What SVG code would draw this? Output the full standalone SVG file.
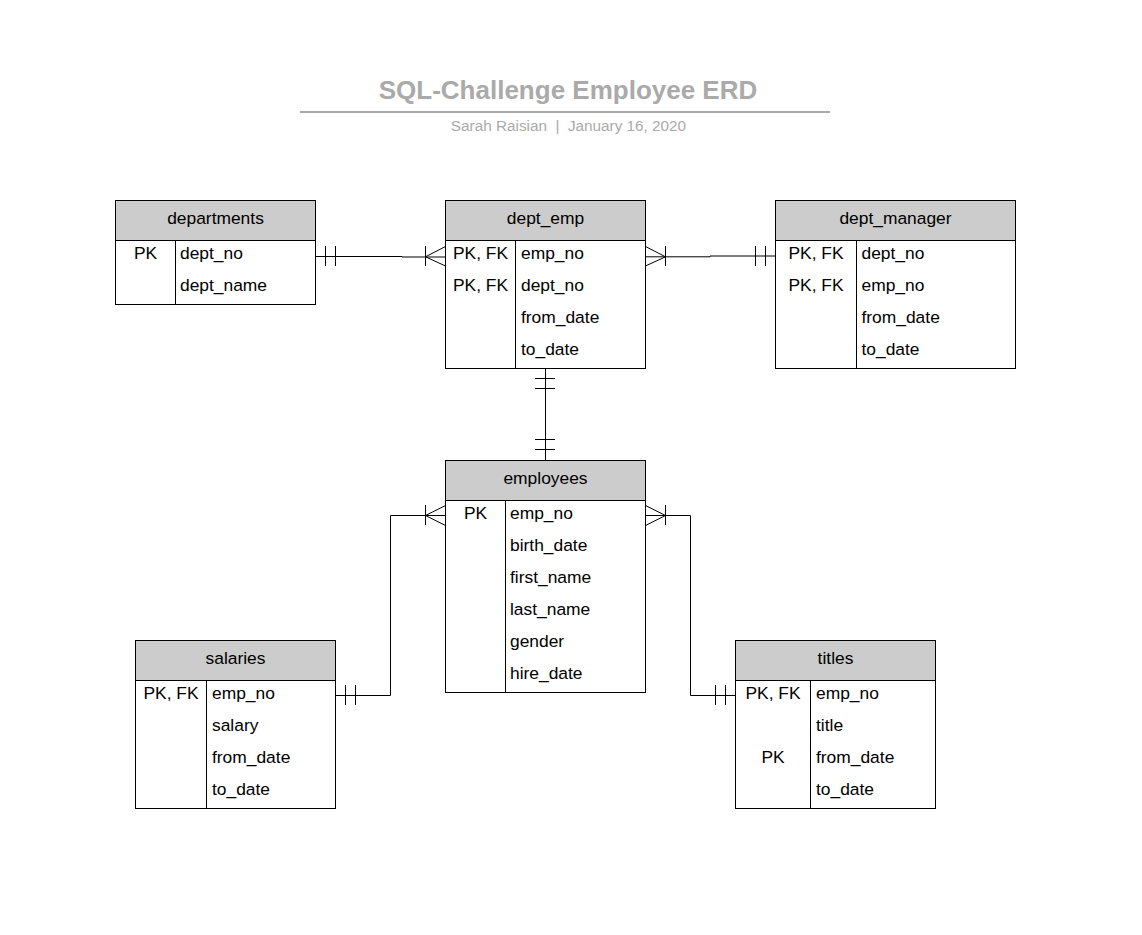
<svg xmlns="http://www.w3.org/2000/svg" width="1142" height="935" viewBox="0 0 1142 935">
<style>
.box{fill:#ffffff;stroke:#000000;stroke-width:1}
.hdr{fill:#cccccc;stroke:#000000;stroke-width:1}
.ln{fill:none;stroke:#000000;stroke-width:1}
.t{font-family:"Liberation Sans",Arial,sans-serif;font-size:17.4px;fill:#000000}
.c{text-anchor:middle}
.title{font-family:"Liberation Sans",Arial,sans-serif;font-size:26px;font-weight:bold;fill:#aaaaaa;text-anchor:middle}
.sub{font-family:"Liberation Sans",Arial,sans-serif;font-size:15.3px;fill:#aaaaaa;text-anchor:middle}
</style>
<rect x="0" y="0" width="1142" height="935" fill="#ffffff"/>
<g id="title">
<text class="title" x="568" y="99">SQL-Challenge Employee ERD</text>
<line x1="300" y1="112" x2="830" y2="112" stroke="#aaaaaa" stroke-width="2"/>
<text class="sub" x="568.5" y="131" xml:space="preserve">Sarah Raisian  |  January 16, 2020</text>
</g>
<g id="connectors">
<polyline class="ln" points="315.5,256.5 402,256.5 402,257 445.5,257"/>
<line class="ln" x1="325.5" y1="246" x2="325.5" y2="266"/>
<line class="ln" x1="335.5" y1="246" x2="335.5" y2="266"/>
<line class="ln" x1="425.5" y1="246" x2="425.5" y2="266"/>
<polyline class="ln" points="445.5,246.5 425.5,256.8 445.5,266"/>
<polyline class="ln" points="645.5,256.8 710,256.8 710,256 775.5,256"/>
<polyline class="ln" points="645.5,246.5 665.5,256.8 645.5,266"/>
<line class="ln" x1="665.5" y1="246" x2="665.5" y2="266"/>
<line class="ln" x1="755.5" y1="246" x2="755.5" y2="266"/>
<line class="ln" x1="765.5" y1="246" x2="765.5" y2="266"/>
<line class="ln" x1="545.5" y1="368.5" x2="545.5" y2="460.5"/>
<line class="ln" x1="535" y1="378.5" x2="555" y2="378.5"/>
<line class="ln" x1="535" y1="388.5" x2="555" y2="388.5"/>
<line class="ln" x1="535" y1="439.5" x2="555" y2="439.5"/>
<line class="ln" x1="535" y1="449.5" x2="555" y2="449.5"/>
<polyline class="ln" points="335.5,695.5 390.5,695.5 390.5,515.5 445.5,515.5"/>
<line class="ln" x1="345.5" y1="685" x2="345.5" y2="705"/>
<line class="ln" x1="355.5" y1="685" x2="355.5" y2="705"/>
<line class="ln" x1="425.5" y1="505" x2="425.5" y2="525"/>
<polyline class="ln" points="445.5,505.5 425.5,515.5 445.5,525.5"/>
<polyline class="ln" points="645.5,515.5 690.5,515.5 690.5,695.5 735.5,695.5"/>
<polyline class="ln" points="645.5,505.5 665.5,515.5 645.5,525.5"/>
<line class="ln" x1="665.5" y1="505" x2="665.5" y2="525"/>
<line class="ln" x1="715.5" y1="685" x2="715.5" y2="705"/>
<line class="ln" x1="725.5" y1="685" x2="725.5" y2="705"/>
</g>
<g id="departments">
<rect class="hdr" x="115.5" y="200.5" width="200" height="40"/>
<rect class="box" x="115.5" y="240.5" width="200" height="64"/>
<line class="ln" x1="175.5" y1="240.5" x2="175.5" y2="304.5"/>
<text class="t c" x="215.5" y="224">departments</text>
<text class="t c" x="145.5" y="259">PK</text>
<text class="t" x="180" y="259">dept_no</text>
<text class="t" x="180" y="291">dept_name</text>
</g>
<g id="dept_emp">
<rect class="hdr" x="445.5" y="200.5" width="200" height="40"/>
<rect class="box" x="445.5" y="240.5" width="200" height="128"/>
<line class="ln" x1="515.5" y1="240.5" x2="515.5" y2="368.5"/>
<text class="t c" x="545.5" y="224">dept_emp</text>
<text class="t c" x="480.5" y="259">PK, FK</text>
<text class="t c" x="480.5" y="291">PK, FK</text>
<text class="t" x="521" y="259">emp_no</text>
<text class="t" x="521" y="291">dept_no</text>
<text class="t" x="521" y="323">from_date</text>
<text class="t" x="521" y="355">to_date</text>
</g>
<g id="dept_manager">
<rect class="hdr" x="775.5" y="200.5" width="240" height="40"/>
<rect class="box" x="775.5" y="240.5" width="240" height="128"/>
<line class="ln" x1="856.5" y1="240.5" x2="856.5" y2="368.5"/>
<text class="t c" x="895.5" y="224">dept_manager</text>
<text class="t c" x="816" y="259">PK, FK</text>
<text class="t c" x="816" y="291">PK, FK</text>
<text class="t" x="861.5" y="259">dept_no</text>
<text class="t" x="861.5" y="291">emp_no</text>
<text class="t" x="861.5" y="323">from_date</text>
<text class="t" x="861.5" y="355">to_date</text>
</g>
<g id="employees">
<rect class="hdr" x="445.5" y="460.5" width="200" height="40"/>
<rect class="box" x="445.5" y="500.5" width="200" height="192"/>
<line class="ln" x1="505.5" y1="500.5" x2="505.5" y2="692.5"/>
<text class="t c" x="545.5" y="484">employees</text>
<text class="t c" x="475.5" y="519">PK</text>
<text class="t" x="510" y="519">emp_no</text>
<text class="t" x="510" y="551">birth_date</text>
<text class="t" x="510" y="583">first_name</text>
<text class="t" x="510" y="615">last_name</text>
<text class="t" x="510" y="647">gender</text>
<text class="t" x="510" y="679">hire_date</text>
</g>
<g id="salaries">
<rect class="hdr" x="135.5" y="640.5" width="200" height="40"/>
<rect class="box" x="135.5" y="680.5" width="200" height="128"/>
<line class="ln" x1="206.5" y1="680.5" x2="206.5" y2="808.5"/>
<text class="t c" x="235.5" y="664">salaries</text>
<text class="t c" x="171" y="699">PK, FK</text>
<text class="t" x="212" y="699">emp_no</text>
<text class="t" x="212" y="731">salary</text>
<text class="t" x="212" y="763">from_date</text>
<text class="t" x="212" y="795">to_date</text>
</g>
<g id="titles">
<rect class="hdr" x="735.5" y="640.5" width="200" height="40"/>
<rect class="box" x="735.5" y="680.5" width="200" height="128"/>
<line class="ln" x1="810.5" y1="680.5" x2="810.5" y2="808.5"/>
<text class="t c" x="835.5" y="664">titles</text>
<text class="t c" x="773" y="699">PK, FK</text>
<text class="t c" x="773" y="763">PK</text>
<text class="t" x="816" y="699">emp_no</text>
<text class="t" x="816" y="731">title</text>
<text class="t" x="816" y="763">from_date</text>
<text class="t" x="816" y="795">to_date</text>
</g>
</svg>
